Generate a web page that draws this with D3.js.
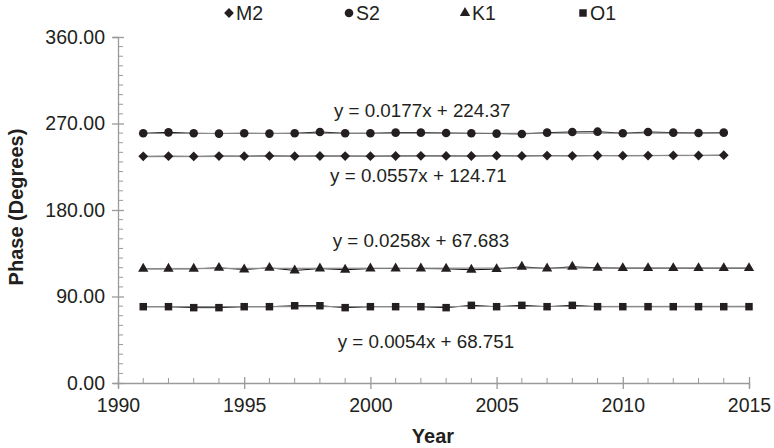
<!DOCTYPE html>
<html>
<head>
<meta charset="utf-8">
<script src="https://cdn.jsdelivr.net/npm/d3@7"></script>
<style>
  body { margin: 0; background: #fff; }
  svg text { font-family: "Liberation Sans", Arial, sans-serif; fill: #231f20; }
</style>
</head>
<body>
<div id="chart"></div>
<script>
// Tidal constituent phases, 1991-2015
const years = d3.range(1991, 2016);
const s2Phase = [259.8, 260.8, 259.8, 259.5, 259.8, 259.5, 259.8, 261.2, 259.8, 259.8, 260.5, 260.5,
                 260.1, 259.8, 259.5, 259.1, 260.5, 261.2, 261.5, 259.8, 261.2, 260.5, 260.1, 260.5];
const m2Phase = [235.8, 236.0, 235.7, 236.1, 236.0, 236.3, 236.0, 236.2, 236.1, 236.0, 236.2, 236.4,
                 236.3, 236.2, 236.5, 236.3, 236.6, 236.4, 236.7, 236.5, 236.6, 236.8, 236.7, 237.0];
const k1Phase = [118.8, 118.8, 118.8, 119.8, 118.1, 119.8, 117.1, 119.1, 117.8, 119.1, 119.1, 119.1, 118.8,
                 117.8, 118.5, 120.9, 119.1, 120.9, 119.8, 119.5, 119.5, 119.5, 119.5, 119.5, 119.5];
const o1Phase = [79.4, 79.4, 78.4, 78.4, 79.4, 79.4, 80.4, 80.4, 78.4, 79.4, 79.4, 79.4, 78.4,
                 80.8, 79.4, 80.8, 79.4, 80.8, 79.4, 79.4, 79.4, 79.4, 79.4, 79.4, 79.4];

const seriesNames = ["M2", "S2", "K1", "O1"];
const trendSlopes = [0.0557, 0.0177, 0.0258, 0.0054];
const trendIntercepts = [124.71, 224.37, 67.683, 68.751];
const trendLabels = ["y = 0.0557x + 124.71", "y = 0.0177x + 224.37", "y = 0.0258x + 67.683", "y = 0.0054x + 68.751"];
// where each equation sits (year at text centre, phase at baseline)
const labelYear = [2001.9, 2002.05, 2002.0, 2002.2];
const labelPhase = [209.2, 276.8, 141.8, 36.4];
const xTicks = [1990, 1995, 2000, 2005, 2010, 2015];
const yTicks = [0, 90, 180, 270, 360];

const width = 774, height = 448;
const margin = { top: 37, right: 25, bottom: 65, left: 118 };

const svg = d3.select("#chart").append("svg")
    .attr("width", width)
    .attr("height", height);

const x = d3.scaleLinear().domain([1990, 2015]).range([margin.left, width - margin.right]);
const y = d3.scaleLinear().domain([0, 360]).range([height - margin.bottom, margin.top]);

const axisColor = "#9a9a9a";
const tickFont = "19.5px";

// Minor ticks (inside the plot)
svg.append("g").selectAll("line")
    .data(d3.range(0, 361, 10).filter(v => v % 90 !== 0))
    .enter().append("line")
    .attr("x1", x(1990)).attr("x2", x(1990) + 5)
    .attr("y1", d => y(d)).attr("y2", d => y(d))
    .attr("stroke", axisColor).attr("stroke-width", 1);

svg.append("g").selectAll("line")
    .data(d3.range(1991, 2015).filter(v => v % 5 !== 0))
    .enter().append("line")
    .attr("x1", d => x(d)).attr("x2", d => x(d))
    .attr("y1", y(0)).attr("y2", y(0) - 5)
    .attr("stroke", axisColor).attr("stroke-width", 1);

// Y axis
const yAxis = svg.append("g")
    .attr("transform", `translate(${x(1990)},0)`)
    .call(d3.axisLeft(y).tickValues(yTicks).tickFormat(d3.format(".2f")).tickSize(5).tickPadding(8));
yAxis.selectAll(".tick line").attr("x2", -6).attr("x1", 6);

// X axis
const xAxis = svg.append("g")
    .attr("transform", `translate(0,${y(0)})`)
    .call(d3.axisBottom(x).tickValues(xTicks).tickFormat(d3.format("d")).tickSize(5).tickPadding(10));
xAxis.selectAll(".tick line").attr("y1", -6).attr("y2", 6);

[yAxis, xAxis].forEach(ax => {
    ax.select(".domain").attr("stroke", axisColor).attr("stroke-width", 1.3);
    ax.selectAll(".tick line").attr("stroke", axisColor).attr("stroke-width", 1.3);
    ax.selectAll("text").style("font-size", tickFont).attr("fill", "#231f20");
});

// Axis titles
svg.append("text")
    .attr("transform", `translate(23,207) rotate(-90)`)
    .attr("text-anchor", "middle")
    .style("font-size", "20px").style("font-weight", "bold")
    .text("Phase (Degrees)");

svg.append("text")
    .attr("x", 433)
    .attr("y", 443)
    .attr("text-anchor", "middle")
    .style("font-size", "20px").style("font-weight", "bold")
    .text("Year");

// Series
const seriesData = [m2Phase, s2Phase, k1Phase, o1Phase];
const symbols = [
    d3.symbol().type(d3.symbolSquare).size(48),
    d3.symbol().type(d3.symbolCircle).size(58),
    d3.symbol().type(d3.symbolTriangle).size(46),
    d3.symbol().type(d3.symbolSquare).size(56)
];
const symbolRotate = [45, 0, 0, 0];
const line = d3.line().x(d => x(d[0])).y(d => y(d[1]));

seriesData.forEach((vals, i) => {
    const pts = vals.map((v, j) => [years[j], v]);
    const g = svg.append("g");

    g.append("path")
        .datum(pts)
        .attr("d", line)
        .attr("fill", "none")
        .attr("stroke", "#111")
        .attr("stroke-width", 1);

    // linear trend line
    const x0 = pts[0][0], x1 = pts[pts.length - 1][0];
    g.append("path")
        .datum([[x0, trendSlopes[i] * x0 + trendIntercepts[i]], [x1, trendSlopes[i] * x1 + trendIntercepts[i]]])
        .attr("d", line)
        .attr("fill", "none")
        .attr("stroke", "#8a8a8a")
        .attr("stroke-width", 1.2);

    g.selectAll("path.pt")
        .data(pts)
        .enter().append("path")
        .attr("class", "pt")
        .attr("d", symbols[i])
        .attr("transform", d => `translate(${x(d[0])},${y(d[1])}) rotate(${symbolRotate[i]})`)
        .attr("fill", "#231f20");
});

// Trend equation labels
trendLabels.forEach((t, i) => {
    svg.append("text")
        .attr("x", x(labelYear[i]))
        .attr("y", y(labelPhase[i]))
        .attr("text-anchor", "middle")
        .style("font-size", "18.8px")
        .text(t);
});

// Legend
const legendX = [229, 349, 465, 583];
const legend = svg.append("g");
seriesNames.forEach((name, i) => {
    legend.append("path")
        .attr("d", symbols[i])
        .attr("transform", `translate(${legendX[i]},13) rotate(${symbolRotate[i]})`)
        .attr("fill", "#231f20");
    legend.append("text")
        .attr("x", legendX[i] + 7)
        .attr("y", 20)
        .style("font-size", tickFont)
        .text(name);
});
</script>
</body>
</html>
